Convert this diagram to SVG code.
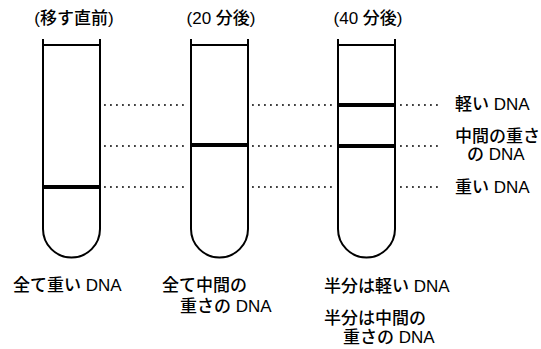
<svg xmlns="http://www.w3.org/2000/svg" width="541" height="349" viewBox="0 0 541 349">
<style>
.tube{fill:none;stroke:#000;stroke-width:2}
.band{stroke:#000;stroke-width:4}
.dot{stroke:#000;stroke-width:1.6;stroke-dasharray:1.8 4.2}
text{font-family:"Liberation Sans","Noto Sans CJK JP",sans-serif;font-size:17px;font-weight:500;fill:#000}
.mid{text-anchor:middle}
</style>
<rect width="541" height="349" fill="#fff"/>
<g id="tube1">
<text class="mid" x="74" y="24">(移す直前)</text>
<path class="tube" d="M43,39 V229 A28.5,28.5 0 0 0 100,229 V39 M43,45 H100"/>
<line class="band" x1="43" y1="187" x2="100" y2="187"/>
<text x="13" y="291">全て重い DNA</text>
</g>
<g id="tube2">
<text class="mid" x="221" y="24">(20 分後)</text>
<path class="tube" d="M191,39 V229 A28.5,28.5 0 0 0 248,229 V39 M191,45 H248"/>
<line class="band" x1="191" y1="145" x2="248" y2="145"/>
<text x="162" y="291">全て中間の</text>
<text x="180" y="312">重さの DNA</text>
</g>
<g id="tube3">
<text class="mid" x="368" y="24">(40 分後)</text>
<path class="tube" d="M338,39 V229 A28.5,28.5 0 0 0 395,229 V39 M338,45 H395"/>
<line class="band" x1="338" y1="105" x2="395" y2="105"/>
<line class="band" x1="338" y1="146" x2="395" y2="146"/>
<text x="324" y="292">半分は軽い DNA</text>
<text x="324" y="324">半分は中間の</text>
<text x="343" y="343">重さの DNA</text>
</g>
<g id="labels">
<text x="455" y="110">軽い DNA</text>
<text x="455" y="142">中間の重さ</text>
<text x="467" y="160">の DNA</text>
<text x="455" y="193">重い DNA</text>
</g>
<g id="connectors">
<line class="dot" x1="104" y1="105" x2="188" y2="105"/>
<line class="dot" x1="104" y1="146" x2="188" y2="146"/>
<line class="dot" x1="104" y1="187" x2="188" y2="187"/>
<line class="dot" x1="252" y1="105" x2="336" y2="105"/>
<line class="dot" x1="252" y1="146" x2="336" y2="146"/>
<line class="dot" x1="252" y1="187" x2="336" y2="187"/>
<line class="dot" x1="400" y1="105" x2="442" y2="105"/>
<line class="dot" x1="400" y1="146" x2="442" y2="146"/>
<line class="dot" x1="400" y1="187" x2="442" y2="187"/>
</g>
</svg>
